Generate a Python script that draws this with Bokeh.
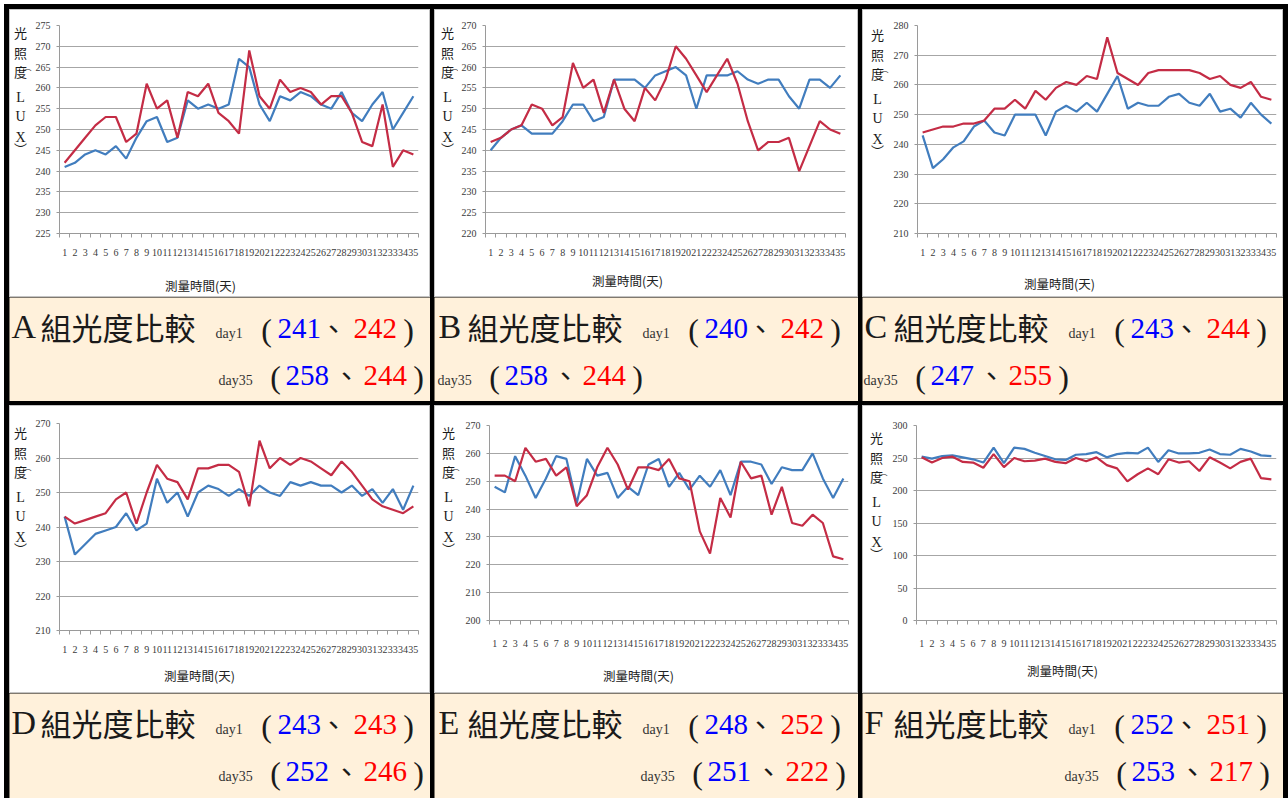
from bokeh.plotting import figure
from bokeh.layouts import row, column
from bokeh.models import Range1d, FixedTicker, Spacer, Label
from bokeh.embed import file_html
from bokeh.resources import INLINE

# ---- data: daily illuminance (LUX) of six groups, two series each ----
days = list(range(1, 36))
groups = ["A", "B", "C", "D", "E", "F"]

a_blue = [241, 242, 244, 245, 244, 246, 243, 248, 252, 253, 247, 248, 257, 255, 256, 255, 256, 267,
          265, 256, 252, 258, 257, 259, 258, 256, 255, 259, 254, 252, 256, 259, 250, 254, 258]
a_red = [242, 245, 248, 251, 253, 253, 247, 249, 261, 255, 257, 248, 259, 258, 261, 254, 252, 249,
         269, 258, 255, 262, 259, 260, 259, 256, 258, 258, 254, 247, 246, 256, 241, 245, 244]
b_blue = [240, 243, 245, 246, 244, 244, 244, 247, 251, 251, 247, 248, 257, 257, 257, 255, 258, 259,
          260, 258, 250, 258, 258, 258, 259, 257, 256, 257, 257, 253, 250, 257, 257, 255, 258]
b_red = [242, 243, 245, 246, 251, 250, 246, 248, 261, 255, 257, 249, 257, 250, 247, 255, 252, 257,
         265, 262, 258, 254, 258, 262, 256, 247, 240, 242, 242, 243, 235, 241, 247, 245, 244]
c_blue = [243, 232, 235, 239, 241, 246, 248, 244, 243, 250, 250, 250, 243, 251, 253, 251, 254, 251,
          257, 263, 252, 254, 253, 253, 256, 257, 254, 253, 257, 251, 252, 249, 254, 250, 247]
c_red = [244, 245, 246, 246, 247, 247, 248, 252, 252, 255, 252, 258, 255, 259, 261, 260, 263, 262,
         276, 264, 262, 260, 264, 265, 265, 265, 265, 264, 262, 263, 260, 259, 261, 256, 255]
d_blue = [243, 232, 235, 238, 239, 240, 244, 239, 241, 254, 247, 250, 243, 250, 252, 251, 249, 251,
          249, 252, 250, 249, 253, 252, 253, 252, 252, 250, 252, 249, 251, 247, 251, 245, 252]
d_red = [243, 241, 242, 243, 244, 248, 250, 241, 250, 258, 254, 253, 248, 257, 257, 258, 258, 256,
         246, 265, 257, 260, 258, 260, 259, 257, 255, 259, 256, 252, 248, 246, 245, 244, 246]
e_blue = [248, 246, 259, 252, 244, 251, 259, 258, 242, 258, 252, 253, 244, 248, 245, 256, 258, 248,
          253, 247, 252, 248, 254, 245, 257, 257, 256, 249, 255, 254, 254, 260, 251, 244, 251]
e_red = [252, 252, 250, 262, 257, 258, 252, 255, 241, 245, 255, 262, 256, 247, 255, 255, 254, 258,
         251, 250, 232, 224, 244, 237, 257, 251, 252, 238, 248, 235, 234, 238, 235, 223, 222]
f_blue = [252, 249, 253, 254, 251, 248, 243, 266, 242, 266, 264, 258, 253, 248, 247, 255, 256, 259,
          251, 256, 258, 257, 266, 244, 262, 257, 257, 258, 263, 256, 255, 264, 260, 254, 253]
f_red = [251, 243, 250, 252, 244, 243, 235, 256, 236, 250, 245, 246, 249, 244, 242, 250, 245, 251,
         239, 234, 214, 225, 234, 225, 248, 243, 245, 230, 251, 243, 234, 244, 249, 219, 217]

a_yticks = [225, 230, 235, 240, 245, 250, 255, 260, 265, 270, 275]
b_yticks = [220, 225, 230, 235, 240, 245, 250, 255, 260, 265, 270]
c_yticks = [210, 220, 230, 240, 250, 260, 270, 280]
d_yticks = [210, 220, 230, 240, 250, 260, 270]
e_yticks = [200, 210, 220, 230, 240, 250, 260, 270]
f_yticks = [0, 50, 100, 150, 200, 250, 300]

y_title = ["光", "照", "度", "L", "U", "X", "︶"]
x_title = "測量時間(天)"
caption_title = "組光度比較"

series = {
    "A": (a_blue, a_red, a_yticks), "B": (b_blue, b_red, b_yticks), "C": (c_blue, c_red, c_yticks),
    "D": (d_blue, d_red, d_yticks), "E": (e_blue, e_red, e_yticks), "F": (f_blue, f_red, f_yticks),
}

# ---- styling ----
BLUE = "#417dbe"
RED = "#c42c45"
GRID = "#a6a6a6"
AXIS = "#9a9a9a"
TICK_TEXT = "#3a3a3a"
BOX = "#c4c4c4"
BEIGE = "#fff1db"
INK = "#1a1a1a"
LATIN = "Liberation Serif"
CJK = "Noto Sans CJK TC"

CHART_H = 288      # chart image height inside a cell (incl. its 1px frame line)
PLOT_H = 256       # part of it holding the plot and tick labels
AXIS_W = 27        # room kept left of the frame for y tick labels
# per-cell geometry (cell pixels): width, frame borders, y-title anchor, x-title anchor,
# tick label standoff
geo = {
    "A": dict(w=421, ml=50, mr=12, mt=16, mb=64, ylx=11, yly=23, xtx=191, xty=276, xs=11),
    "B": dict(w=424, ml=51, mr=13, mt=16, mb=64, ylx=13, yly=23, xtx=193, xty=271, xs=11),
    "C": dict(w=421, ml=55, mr=7, mt=16, mb=64, ylx=15, yly=25, xtx=197, xty=274, xs=11),
    "D": dict(w=421, ml=50, mr=12, mt=18, mb=63, ylx=11, yly=27, xtx=190, xty=270, xs=11),
    "E": dict(w=424, ml=55, mr=10, mt=20, mb=73, ylx=14, yly=27, xtx=204, xty=270, xs=15),
    "F": dict(w=421, ml=54, mr=7, mt=20, mb=73, ylx=14, yly=32, xtx=200, xty=265, xs=15),
}
# caption line starts (line 1 group letter, line 2 "day35")
cap_geo = {"A": (1, 209), "B": (3, 3), "C": (1, 1), "D": (1, 209), "E": (3, 206), "F": (1, 202)}
ytitle_dy = [0, 20, 39, 65, 84, 105, 116]


def blank(w, h, fill):
    """A figure used as a plain drawing surface (no axes, frame = whole canvas)."""
    f = figure(width=w, height=h, output_backend="svg", toolbar_location=None, title=None,
               x_range=Range1d(0, w), y_range=Range1d(h, 0),
               x_axis_type=None, y_axis_type=None,
               min_border_left=0, min_border_right=0, min_border_top=0, min_border_bottom=0,
               background_fill_color=fill, border_fill_color=fill,
               outline_line_color=None, frame_align=False)
    return f


def write(f, text, x, y, font, size, color=INK, align="left"):
    """Place a text centred vertically on y."""
    f.add_layout(Label(x=x, y=y, text=text, text_font=font, text_font_size=f"{size}px",
                       text_color=color, text_align=align, text_baseline="middle"))


def on_base(f, text, x, base, font, size, color=INK, align="left"):
    """Place a text so that its alphabetic baseline sits on `base`."""
    k = 0.38 if font == CJK else 0.34
    write(f, text, x, base - k * size, font, size, color, align)


def chart(g):
    blue, red, yticks = series[g]
    gm = geo[g]
    w = gm["w"]
    inner_w, inner_h = w - 2, CHART_H - 2          # inside the 1px grey frame line
    yt_w = gm["ml"] - AXIS_W - 1
    p = figure(width=inner_w - yt_w, height=PLOT_H - 1, output_backend="svg",
               toolbar_location=None, title=None,
               x_range=Range1d(0.5, 35.5), y_range=Range1d(yticks[0], yticks[-1]),
               min_border_left=AXIS_W, min_border_right=gm["mr"] - 1,
               min_border_top=gm["mt"] - 1, min_border_bottom=gm["mb"] - (CHART_H - PLOT_H),
               background_fill_color="white", border_fill_color="white",
               outline_line_color=None, frame_align=False)
    p.line(days, blue, line_color=BLUE, line_width=2.2)
    p.line(days, red, line_color=RED, line_width=2.2)

    p.xgrid.visible = False
    p.ygrid.ticker = FixedTicker(ticks=yticks)
    p.ygrid.grid_line_color = GRID

    xa = p.xaxis[0]
    xa.ticker = FixedTicker(ticks=days, minor_ticks=[d - 0.5 for d in days] + [35.5])
    xa.axis_line_color = AXIS
    xa.major_tick_line_color = None
    xa.major_tick_out = 0
    xa.major_tick_in = 0
    xa.minor_tick_line_color = AXIS
    xa.minor_tick_out = 4
    xa.minor_tick_in = 0
    xa.major_label_standoff = gm["xs"]
    xa.major_label_text_font = LATIN
    xa.major_label_text_font_size = "10px"
    xa.major_label_text_color = TICK_TEXT

    ya = p.yaxis[0]
    ya.ticker = FixedTicker(ticks=yticks)
    ya.axis_line_color = AXIS
    ya.major_tick_line_color = AXIS
    ya.major_tick_out = 3
    ya.major_tick_in = 0
    ya.minor_tick_line_color = None
    ya.major_label_standoff = 6
    ya.major_label_text_font = LATIN
    ya.major_label_text_font_size = "10px"
    ya.major_label_text_color = TICK_TEXT

    # stacked vertical y title
    yt = blank(yt_w, PLOT_H - 1, "white")
    for ch, dy in zip(y_title, ytitle_dy):
        latin = ch in ("L", "U", "X")
        write(yt, ch, gm["ylx"] - 1, gm["yly"] + dy - 1, LATIN if latin else CJK,
              14 if latin else 13, INK, "center")
    write(yt, "︵", gm["ylx"] + 6, gm["yly"] + 33, CJK, 8, INK, "center")

    # x title
    xt = blank(inner_w, inner_h - (PLOT_H - 1), "white")
    write(xt, x_title, gm["xtx"] - 1, gm["xty"] - PLOT_H, CJK, 12.5, "#222222", "center")

    inner = column(row(yt, p, spacing=0), xt, spacing=0, styles={"background-color": "white"})
    # thin grey line framing the chart image
    return column(Spacer(width=w, height=1),
                  row(Spacer(width=1, height=inner_h), inner, Spacer(width=1, height=inner_h),
                      spacing=0),
                  Spacer(width=w, height=1),
                  spacing=0, styles={"background-color": BOX})


def caption(g, h):
    blue, red, _ = series[g]
    w = geo[g]["w"]
    x0, x2 = cap_geo[g]
    c = blank(w, h, BEIGE)
    b1, b2 = 41, 88

    # line 1: group, title, day-1 values
    on_base(c, g, x0 + 1, b1, LATIN, 34)
    on_base(c, caption_title, x0 + 30, b1, CJK, 31)
    on_base(c, "day1", x0 + 205, b1, LATIN, 14, "#333333")
    on_base(c, "(", x0 + 256, b1 + 2, LATIN, 32, INK, "center")
    on_base(c, str(blue[0]), x0 + 267, b1, LATIN, 29, "#0000ff")
    on_base(c, "、", x0 + 323, b1, CJK, 28, INK, "center")
    on_base(c, str(red[0]), x0 + 343, b1, LATIN, 29, "#ff0000")
    on_base(c, ")", x0 + 398, b1 + 2, LATIN, 32, INK, "center")
    # line 2: day-35 values
    on_base(c, "day35", x2, b2, LATIN, 14, "#333333")
    on_base(c, "(", x2 + 57, b2 + 2, LATIN, 32, INK, "center")
    on_base(c, str(blue[-1]), x2 + 67, b2, LATIN, 29, "#0000ff")
    on_base(c, "、", x2 + 128, b2, CJK, 28, INK, "center")
    on_base(c, str(red[-1]), x2 + 145, b2, LATIN, 29, "#ff0000")
    on_base(c, ")", x2 + 200, b2 + 2, LATIN, 32, INK, "center")
    return c


def cell(g, cap_h):
    return column(chart(g), caption(g, cap_h), spacing=0)


row1 = row(Spacer(width=5), cell("A", 104), Spacer(width=4), cell("B", 104), Spacer(width=4),
           cell("C", 104), Spacer(width=5), spacing=0)
row2 = row(Spacer(width=5), cell("D", 105), Spacer(width=4), cell("E", 105), Spacer(width=4),
           cell("F", 105), Spacer(width=5), spacing=0)
table = column(Spacer(height=5), row1, Spacer(height=4), row2, spacing=0,
               styles={"background-color": "black"})
page = column(Spacer(height=4), row(Spacer(width=4), table, spacing=0), spacing=0)

open("out.html", "w").write(file_html(page, INLINE))
